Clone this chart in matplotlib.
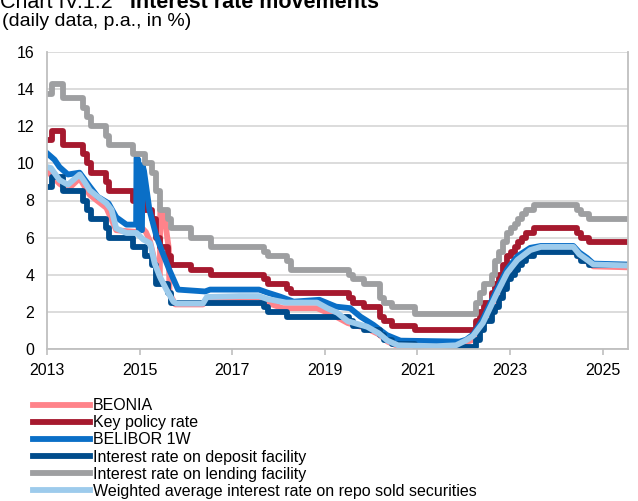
import matplotlib
matplotlib.use("Agg")
import matplotlib.pyplot as plt
import matplotlib.dates as mdates
import pandas as pd

# ---------------------------------------------------------------------------
# Data
# ---------------------------------------------------------------------------
END = "2025-07-20"

KEY_DATES = ["2013-01-01", "2013-02-08", "2013-05-10", "2013-10-10", "2013-11-12",
             "2013-12-12", "2014-04-10", "2014-05-08", "2014-11-10", "2015-02-12",
             "2015-04-09", "2015-05-14", "2015-06-11", "2015-08-13", "2015-09-10",
             "2016-02-11", "2016-07-14", "2017-09-07", "2017-10-12", "2018-03-08",
             "2018-04-12", "2019-07-11", "2019-08-08", "2019-11-07", "2020-03-11",
             "2020-04-09", "2020-06-11", "2020-12-10", "2022-04-07", "2022-05-12",
             "2022-06-09", "2022-08-11", "2022-09-08", "2022-10-06", "2022-11-10",
             "2022-12-08", "2023-01-12", "2023-02-09", "2023-03-09", "2023-04-06",
             "2023-05-11", "2023-07-13", "2024-06-13", "2024-07-11", "2024-09-12", END]
KEY_RATE = [11.25, 11.75, 11.0, 10.5, 10.0,
            9.5, 9.0, 8.5, 8.0, 7.5,
            7.0, 6.0, 5.5, 5.0, 4.5,
            4.25, 4.0, 3.75, 3.5, 3.25,
            3.0, 2.75, 2.5, 2.25, 1.75,
            1.5, 1.25, 1.0, 1.5, 2.0,
            2.5, 3.0, 3.5, 4.0, 4.5,
            5.0, 5.25, 5.5, 5.75, 6.0,
            6.25, 6.5, 6.25, 6.0, 5.75, 5.75]

LENDING_RATE = [13.75, 14.25, 13.5, 13.0, 12.5,
                12.0, 11.5, 11.0, 10.5, 10.0,
                9.5, 8.5, 7.5, 7.0, 6.5,
                6.0, 5.5, 5.25, 5.0, 4.75,
                4.25, 4.0, 3.75, 3.5, 2.75,
                2.5, 2.25, 1.9, 2.5, 3.0,
                3.5, 4.0, 4.75, 5.25, 5.75,
                6.25, 6.5, 6.75, 7.0, 7.25,
                7.5, 7.75, 7.5, 7.25, 7.0, 7.0]

DEPOSIT_RATE = [8.75, 9.25, 8.5, 8.0, 7.5,
                7.0, 6.5, 6.0, 5.5, 5.0,
                4.5, 3.5, 3.5, 3.0, 2.5,
                2.5, 2.5, 2.25, 2.0, 1.75,
                1.75, 1.5, 1.25, 1.0, 0.75,
                0.5, 0.25, 0.1, 0.5, 1.0,
                1.5, 2.0, 2.25, 2.75, 3.25,
                3.75, 4.0, 4.25, 4.5, 4.75,
                5.0, 5.25, 5.0, 4.75, 4.5, 4.5]

REPO_DATES = ["2013-01-01", "2013-02-01", "2013-04-10", "2013-06-15", "2013-09-15",
              "2013-10-25", "2013-12-05", "2014-02-05", "2014-04-15", "2014-05-25",
              "2014-07-01", "2014-09-20", "2014-12-10", "2015-01-30", "2015-03-25",
              "2015-05-01", "2015-06-10", "2015-08-01", "2015-09-25", "2015-10-20",
              "2016-05-15", "2016-06-15", "2017-03-01", "2017-08-01", "2017-10-01",
              "2018-03-01", "2018-11-01", "2019-01-20", "2019-04-10", "2019-07-01",
              "2019-12-01", "2020-03-01", "2020-05-10", "2020-08-01", "2021-06-01",
              "2021-11-01", "2022-01-15", "2022-03-15", "2022-06-01", "2022-09-20",
              "2022-12-10", "2023-03-01", "2023-06-10", "2023-09-01", "2024-05-15",
              "2024-07-01", "2024-09-01", "2024-10-20", END]
REPO_RATE = [9.8, 9.75, 9.1, 8.85, 9.4,
             9.0, 8.55, 8.2, 7.85, 7.5,
             6.5, 6.25, 6.25, 5.9, 5.7,
             4.6, 3.9, 3.2, 2.55, 2.45,
             2.45, 2.8, 2.85, 2.85, 2.7,
             2.5, 2.5, 2.2, 1.95, 1.5,
             1.2, 0.85, 0.45, 0.2, 0.15,
             0.2, 0.45, 0.7, 1.4, 3.0,
             4.1, 4.8, 5.33, 5.5, 5.5,
             5.1, 4.8, 4.55, 4.5]

BELIBOR_DATES = ["2013-01-01", "2013-03-01", "2013-04-10", "2013-06-15", "2013-09-15",
                 "2013-12-05", "2014-02-05", "2014-05-01", "2014-07-01", "2014-09-20",
                 "2014-12-05", "2014-12-08", "2014-12-22", "2014-12-26", "2015-01-20",
                 "2015-01-24", "2015-02-05", "2015-03-20", "2015-05-15", "2015-07-01",
                 "2015-08-25", "2015-11-01", "2016-06-01", "2016-07-10", "2017-08-01",
                 "2017-10-01", "2018-01-15", "2018-05-01", "2018-11-20", "2019-04-01",
                 "2019-07-20", "2019-10-10", "2020-01-20", "2020-05-05", "2020-08-20",
                 "2021-12-01", "2022-01-20", "2022-03-20", "2022-06-01", "2022-09-20",
                 "2022-12-10", "2023-03-01", "2023-06-10", "2023-09-01", "2024-05-15",
                 "2024-07-01", "2024-09-01", "2024-10-20", END]
BELIBOR_RATE = [10.55, 10.2, 9.8, 9.4, 9.5,
                8.75, 8.2, 7.85, 7.1, 6.7,
                6.7, 10.3, 10.2, 6.5, 6.4,
                9.9, 9.6, 7.5, 6.05, 5.2,
                4.25, 3.2, 3.1, 3.2, 3.2,
                3.05, 2.82, 2.55, 2.65, 2.28,
                2.2, 1.74, 1.3, 0.75, 0.45,
                0.4, 0.5, 0.8, 1.6, 3.2,
                4.3, 5.0, 5.45, 5.55, 5.55,
                5.2, 4.9, 4.6, 4.55]

BEONIA_DATES = ["2013-01-01", "2013-04-10", "2013-06-15", "2013-09-15", "2013-12-05",
                "2014-04-15", "2014-07-01", "2014-12-10", "2015-01-10", "2015-02-20",
                "2015-03-25", "2015-05-01", "2015-06-10", "2015-06-14", "2015-07-15",
                "2015-08-20", "2015-08-25", "2015-10-10", "2016-05-15", "2016-06-15",
                "2017-08-01", "2017-10-01", "2018-02-01", "2018-11-01", "2019-03-01",
                "2019-07-01", "2019-12-01", "2020-03-01", "2020-05-10", "2020-08-01",
                "2021-11-01", "2022-03-15", "2022-06-01", "2022-09-20", "2022-12-10",
                "2023-03-01", "2023-06-10", "2023-09-01", "2024-05-15", "2024-07-01",
                "2024-09-01", "2024-10-20", END]
BEONIA_RATE = [9.6, 8.9, 8.6, 9.2, 8.3,
               7.6, 6.4, 6.3, 6.6, 6.3,
               5.8, 4.7, 3.9, 7.5, 7.2,
               5.4, 3.0, 2.4, 2.4, 2.75,
               2.8, 2.5, 2.2, 2.2, 1.85,
               1.4, 1.1, 0.8, 0.4, 0.15,
               0.15, 0.5, 1.3, 2.9, 4.0,
               4.7, 5.2, 5.3, 5.3, 4.95,
               4.7, 4.45, 4.4]

YEAR_TICKS = ["2013", "2015", "2017", "2019", "2021", "2023", "2025"]
LABELS = ["BEONIA", "Key policy rate", "BELIBOR 1W",
          "Interest rate on deposit facility", "Interest rate on lending facility",
          "Weighted average interest rate on repo sold securities"]
COLORS = ["#FF838A", "#A6192E", "#0A6FC7", "#004C8C", "#9E9FA1", "#9DCBEC"]

# ---------------------------------------------------------------------------
# Plot
# ---------------------------------------------------------------------------
plt.rcParams.update({
    "font.family": ["Liberation Sans", "DejaVu Sans"],
    "font.size": 11.5,
})

fig = plt.figure(figsize=(6.38, 5.01), dpi=100)
ax = fig.add_axes([47 / 638, 1 - 349 / 501, (628 - 47) / 638, (349 - 52) / 501])

key_d = pd.to_datetime(KEY_DATES)
lw = 4.2

ax.plot(pd.to_datetime(BEONIA_DATES), BEONIA_RATE, color=COLORS[0], lw=lw, label=LABELS[0])
ax.step(key_d, KEY_RATE, where="post", color=COLORS[1], lw=lw, label=LABELS[1])
ax.plot(pd.to_datetime(BELIBOR_DATES), BELIBOR_RATE, color=COLORS[2], lw=lw, label=LABELS[2])
ax.step(key_d, DEPOSIT_RATE, where="post", color=COLORS[3], lw=lw, label=LABELS[3])
ax.step(key_d, LENDING_RATE, where="post", color=COLORS[4], lw=lw, label=LABELS[4])
ax.plot(pd.to_datetime(REPO_DATES), REPO_RATE, color=COLORS[5], lw=lw, label=LABELS[5])

ax.set_ylim(0, 16)
ax.set_yticks(range(0, 17, 2))
ax.set_xlim(pd.Timestamp("2013-01-01"), pd.Timestamp(END))
ax.set_xticks(pd.to_datetime([y + "-01-01" for y in YEAR_TICKS]))
ax.xaxis.set_major_formatter(mdates.DateFormatter("%Y"))

ax.grid(axis="y", color="#D9D9D9", lw=1.3)
ax.set_axisbelow(True)
for side in ["left", "bottom", "right"]:
    ax.spines[side].set_color("#BFBFBF")
    ax.spines[side].set_linewidth(1.3)
ax.spines["top"].set_visible(False)
ax.tick_params(axis="y", length=0, pad=9)
ax.tick_params(axis="x", length=4, color="#BFBFBF", width=1.2, pad=6)

# title is cut off at the top edge, as in the reference
fig.text(0.0, 0.985, "Chart IV.1.2", fontsize=15.5, ha="left", va="baseline")
fig.text(130 / 638, 0.985, "Interest rate movements", fontsize=15.5,
         fontweight="bold", ha="left", va="baseline")
fig.text(0.003, 0.949, "(daily data, p.a., in %)", fontsize=14, ha="left", va="baseline")

fig.legend(loc="upper left", bbox_to_anchor=(33 / 638, 0.205), frameon=False,
           handlelength=3.55, handletextpad=0.2, labelspacing=0.13, borderaxespad=0,
           borderpad=0)

fig.savefig("out.png", dpi=100)
